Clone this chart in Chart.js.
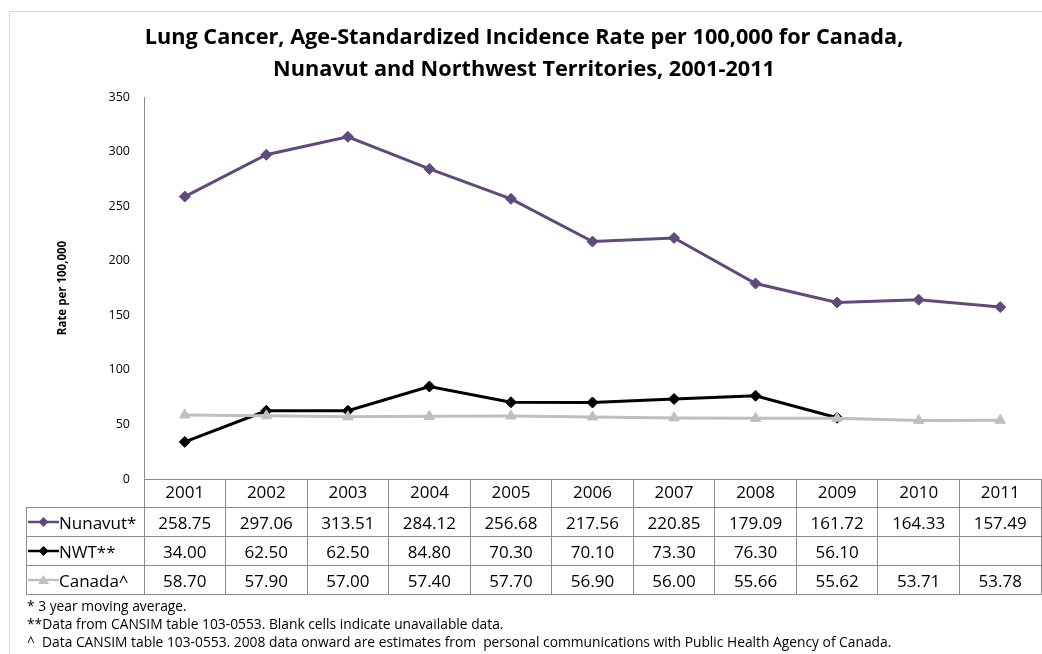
<!DOCTYPE html>
<html><head><meta charset="utf-8">
<script src="https://cdn.jsdelivr.net/npm/chart.js@4.4.1/dist/chart.umd.min.js"></script>
<style>
html,body{margin:0;padding:0;background:#fff;width:1042px;height:654px;overflow:hidden;font-family:'Open Sans',sans-serif;}
#frame{position:absolute;left:9px;top:11px;width:1100px;height:700px;border-left:1px solid #d9d9d9;border-top:1px solid #d9d9d9;box-sizing:border-box;}
#c{position:absolute;left:0;top:0;}
#tbl{position:absolute;left:0;top:0;width:1042px;height:654px;}
.ln{position:absolute;background:#8c8c8c;}
.tx{position:absolute;font-size:17px;color:#000;white-space:nowrap;line-height:29px;height:29px;}
.fn{position:absolute;left:27px;font-size:13.8px;color:#000;white-space:pre;line-height:18px;}
</style></head>
<body>
<div id="frame"></div>
<canvas id="c" width="1042" height="654"></canvas>
<div id="tbl"></div>
<script>
const titleLines = ['Lung Cancer, Age-Standardized Incidence Rate per 100,000 for Canada,', 'Nunavut and Northwest Territories, 2001-2011'];
const yAxisTitle = 'Rate per 100,000';
const years = ['2001','2002','2003','2004','2005','2006','2007','2008','2009','2010','2011'];
const nunavut = [258.75, 297.06, 313.51, 284.12, 256.68, 217.56, 220.85, 179.09, 161.72, 164.33, 157.49];
const nwt = [34.00, 62.50, 62.50, 84.80, 70.30, 70.10, 73.30, 76.30, 56.10, null, null];
const canada = [58.70, 57.90, 57.00, 57.40, 57.70, 56.90, 56.00, 55.66, 55.62, 53.71, 53.78];
const seriesNames = ['Nunavut*', 'NWT**', 'Canada^'];
const yMin = 0, yMax = 350, yStep = 50;
const footnotes = [
  '* 3 year moving average.',
  '**Data from CANSIM table 103-0553. Blank cells indicate unavailable data.',
  '^  Data CANSIM table 103-0553. 2008 data onward are estimates from  personal communications with Public Health Agency of Canada.'
];

const colors = ['#604A7B', '#000000', '#BFBFBF'];
const styles = ['rectRot', 'rectRot', 'triangle'];
const radii = [5.5, 5.5, 6];
const seriesData = [nunavut, nwt, canada];
const gridColor = '#8c8c8c';

const ctx = document.getElementById('c').getContext('2d');
Chart.defaults.font.family = "'Open Sans', sans-serif";
const chart = new Chart(ctx, {
  type: 'line',
  data: {
    labels: years,
    datasets: seriesData.map((d, i) => ({
      label: seriesNames[i], data: d,
      borderColor: colors[i], backgroundColor: colors[i],
      pointBackgroundColor: colors[i], pointBorderColor: colors[i],
      borderWidth: 3, pointStyle: styles[i], pointRadius: radii[i], pointBorderWidth: 1,
      tension: 0, spanGaps: false, order: 2 - i
    }))
  },
  options: {
    responsive: false, animation: false, devicePixelRatio: 1,
    layout: { autoPadding: false, padding: { left: 7, right: 1, top: 0, bottom: 147 } },
    plugins: {
      legend: { display: false }, tooltip: { enabled: false },
      title: { display: true, text: titleLines, color: '#000',
        font: { size: 21.7, weight: 'bold', lineHeight: 32/21.7 }, padding: { top: 22, bottom: 11 } }
    },
    scales: {
      x: {
        offset: true,
        grid: { offset: true, drawOnChartArea: false, drawTicks: true, tickLength: 28, color: gridColor, lineWidth: 1 },
        border: { display: true, color: gridColor, width: 1 },
        ticks: { padding: -24, color: '#000', font: { size: 17 }, maxRotation: 0, autoSkip: false },
        afterFit(s) { s.height = 28; s.paddingLeft = 0; s.paddingRight = 0; }
      },
      y: {
        min: yMin, max: yMax,
        ticks: { stepSize: yStep, padding: 14, color: '#000', font: { size: 12.5 } },
        grid: { display: false, drawTicks: false },
        border: { display: true, color: gridColor, width: 1 },
        title: { display: true, text: yAxisTitle, color: '#000', font: { size: 11.5, weight: 'bold' }, padding: { top: 49, bottom: 0 } },
        afterFit(s) { s.width = 137; }
      }
    }
  }
});

// Data table below the axis, positioned from the chart's own x scale
(function buildTable() {
  const xs = chart.scales.x;
  const tbl = document.getElementById('tbl');
  const n = years.length;
  const centers = years.map((_, i) => xs.getPixelForValue(i));
  const half = (centers[1] - centers[0]) / 2;
  const bounds = [centers[0] - half];
  for (let i = 1; i < n; i++) bounds.push((centers[i - 1] + centers[i]) / 2);
  bounds.push(centers[n - 1] + half);
  const rowH = 29;
  const top = Math.floor(xs.bottom);
  const labelLeft = 26;
  const right = Math.floor(bounds[n]);
  const add = (cls, css, text) => { const d = document.createElement('div'); d.className = cls; Object.assign(d.style, css); if (text !== undefined) d.textContent = text; tbl.appendChild(d); return d; };
  for (let r = 0; r <= seriesNames.length; r++) {
    add('ln', { left: labelLeft + 'px', top: (top + r * rowH) + 'px', width: (right - labelLeft + 1) + 'px', height: '1px' });
  }
  const bottom = top + seriesNames.length * rowH;
  [labelLeft].concat(bounds.map(b => Math.floor(b))).forEach(x => {
    add('ln', { left: x + 'px', top: top + 'px', width: '1px', height: (bottom - top + 1) + 'px' });
  });
  seriesData.forEach((d, r) => {
    const y = top + r * rowH + 1;
    const svgNS = 'http://www.w3.org/2000/svg';
    const svg = document.createElementNS(svgNS, 'svg');
    svg.setAttribute('width', '32'); svg.setAttribute('height', '16');
    Object.assign(svg.style, { position: 'absolute', left: (labelLeft + 2) + 'px', top: (y + 6) + 'px' });
    const l = document.createElementNS(svgNS, 'line');
    l.setAttribute('x1', '0'); l.setAttribute('x2', '31'); l.setAttribute('y1', '8'); l.setAttribute('y2', '8');
    l.setAttribute('stroke', colors[r]); l.setAttribute('stroke-width', '2.5');
    svg.appendChild(l);
    const p = document.createElementNS(svgNS, 'polygon');
    p.setAttribute('points', styles[r] === 'triangle' ? '15.5,3 21,12 10,12' : '15.5,3 20.5,8 15.5,13 10.5,8');
    p.setAttribute('fill', colors[r]);
    svg.appendChild(p);
    tbl.appendChild(svg);
    add('tx', { left: (labelLeft + 33) + 'px', top: y + 'px' }, seriesNames[r]);
    d.forEach((v, i) => {
      add('tx', { left: bounds[i] + 'px', top: y + 'px', width: (bounds[i + 1] - bounds[i]) + 'px', textAlign: 'center' }, v === null ? '' : v.toFixed(2));
    });
  });
  footnotes.forEach((t, i) => add('fn', { top: (bottom + 3 + i * 18) + 'px' }, t));
})();
</script>
</body></html>
